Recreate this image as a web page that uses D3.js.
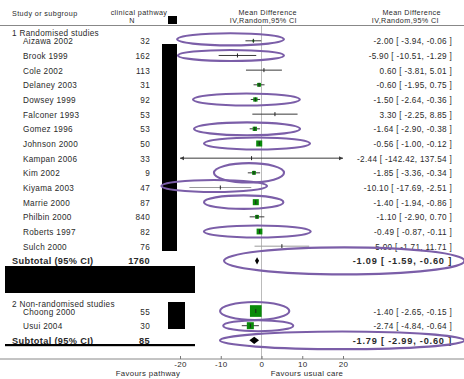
<!DOCTYPE html>
<html>
<head>
<meta charset="utf-8">
<script src="https://cdn.jsdelivr.net/npm/d3@7"></script>
<style>
  html, body { margin: 0; padding: 0; background: #fff; }
  svg { display: block; }
  text { font-family: "Liberation Sans", Arial, sans-serif; fill: #2a2a2a; }
</style>
</head>
<body>
<svg id="chart" width="464" height="379"></svg>
<script>
// ---------------- DATA ----------------
const group1Label = "1 Randomised studies";
const group2Label = "2 Non-randomised studies";

const studies1 = ["Aizawa 2002","Brook 1999","Cole 2002","Delaney 2003","Dowsey 1999","Falconer 1993","Gomez 1996","Johnson 2000","Kampan 2006","Kim 2002","Kiyama 2003","Marrie 2000","Philbin 2000","Roberts 1997","Sulch 2000"];
const n1 =      [32, 162, 113, 31, 92, 53, 53, 50, 33, 9, 47, 87, 840, 82, 76];
const md1 =     [-2.00, -5.90, 0.60, -0.60, -1.50, 3.30, -1.64, -0.56, -2.44, -1.85, -10.10, -1.40, -1.10, -0.49, 5.00];
const lo1 =     [-3.94, -10.51, -3.81, -1.95, -2.64, -2.25, -2.90, -1.00, -142.42, -3.36, -17.69, -1.94, -2.90, -0.87, -1.71];
const hi1 =     [-0.06, -1.29, 5.01, 0.75, -0.36, 8.85, -0.38, -0.12, 137.54, -0.34, -2.51, -0.86, 0.70, -0.11, 11.71];
const weight1 = [2, 0.5, 1, 8, 10, 0.8, 10, 20, 0, 8, 0.2, 20, 8, 18.5, 0.3];
const subtotal1 = { n: 1760, md: -1.09, lo: -1.59, hi: -0.60 };

const studies2 = ["Choong 2000","Usui 2004"];
const n2 =      [55, 30];
const md2 =     [-1.40, -2.74];
const lo2 =     [-2.65, -4.84];
const hi2 =     [-0.15, -0.64];
const weight2 = [75, 27];
const subtotal2 = { n: 85, md: -1.79, lo: -2.99, hi: -0.60 };

const xTicks = [-20, -10, 0, 10, 20];
const favoursLeft = "Favours pathway";
const favoursRight = "Favours usual care";

// highlight ellipses (annotations), in data units: centre MD, half-width in MD units, half-height in rows
const annotRows = ["Aizawa 2002","Brook 1999","Dowsey 1999","Gomez 1996","Johnson 2000","Kim 2002","Kiyama 2003","Marrie 2000","Roberts 1997","Subtotal 1","Choong 2000","Usui 2004","Subtotal 2"];
const annotCx =   [-7.6, -7.5, -3.7, -3.55, -1.1, -3.07, -11.6, -4.37, -1.03, 20.3, -1.67, -0.8, 19.8];
const annotRx =   [13.1, 13.0, 13.1, 13.0, 13.0, 8.6, 12.95, 9.75, 13.1, 29.5, 8.5, 8.6, 30];
const annotRy =   [0.41, 0.375, 0.41, 0.44, 0.41, 0.66, 0.41, 0.46, 0.41, 0.92, 0.61, 0.375, 0.6];

// ---------------- LAYOUT ----------------
const svg = d3.select("#chart");
const W = 464;
const x = d3.scaleLinear().domain([-20, 20]).range([180, 343]);
const y = d3.scaleLinear().domain([0, 1]).range([40.8, 55.47]);
const dimmed = new Set(["Kiyama 2003", "Sulch 2000"]);
const boxSide = w => 1.35 * Math.sqrt(w);
const fmt = v => v.toFixed(2);

// row index for each line
const rowIndex = {};
studies1.forEach((s, i) => rowIndex[s] = i);
rowIndex["Subtotal 1"] = 15;
studies2.forEach((s, i) => rowIndex[s] = 18.42 + i);
rowIndex["Subtotal 2"] = 20.42;

const rows = [];
studies1.forEach((s, i) => rows.push({ name: s, n: n1[i], md: md1[i], lo: lo1[i], hi: hi1[i], w: weight1[i], idx: i }));
studies2.forEach((s, i) => rows.push({ name: s, n: n2[i], md: md2[i], lo: lo2[i], hi: hi2[i], w: weight2[i], idx: 18.42 + i }));
const subs = [
  Object.assign({ idx: 15 }, subtotal1),
  Object.assign({ idx: 20.42 }, subtotal2)
];

// ---------------- HEADER ----------------
const headerFont = 7.2;
const hdr = svg.append("g").attr("font-size", headerFont).attr("letter-spacing", 0.4);
hdr.append("text").attr("x", 12).attr("y", 15.5).text("Study or subgroup");
hdr.append("text").attr("x", 139).attr("y", 15).attr("text-anchor", "middle").text("clinical pathway");
hdr.append("text").attr("x", 132).attr("y", 23).attr("text-anchor", "middle").text("N");
hdr.append("text").attr("x", 297).attr("y", 15).attr("text-anchor", "end").text("Mean Difference");
hdr.append("text").attr("x", 297).attr("y", 23).attr("text-anchor", "end").text("IV,Random,95% CI");
hdr.append("text").attr("x", 441).attr("y", 15).attr("text-anchor", "end").text("Mean Difference");
hdr.append("text").attr("x", 439).attr("y", 23).attr("text-anchor", "end").text("IV,Random,95% CI");
svg.append("line").attr("x1", 0).attr("x2", W).attr("y1", 25.5).attr("y2", 25.5)
  .attr("stroke", "#888").attr("stroke-width", 1);

// ---------------- AXIS ----------------
const axisY = 359;
svg.append("line").attr("x1", x(0)).attr("x2", x(0)).attr("y1", 26).attr("y2", axisY)
  .attr("stroke", "#bbb").attr("stroke-width", 1);
const axisG = svg.append("g").attr("transform", `translate(0,${axisY})`);
axisG.append("line").attr("x1", 0).attr("x2", W).attr("y1", 0).attr("y2", 0).attr("stroke", "#888");
const ax = d3.axisTop(x).tickValues(xTicks).tickSize(3).tickFormat(d => d);
const axG = axisG.append("g").call(ax);
axG.select(".domain").remove();
axG.selectAll(".tick line").attr("stroke", "#777");
axG.selectAll(".tick text").attr("y", 8).attr("dy", 0).attr("font-size", 8)
  .attr("letter-spacing", 0.4).attr("fill", "#2a2a2a")
  .attr("font-family", "'Liberation Sans', Arial, sans-serif");
svg.append("text").attr("x", 148).attr("y", 376).attr("text-anchor", "middle")
  .attr("font-size", 7.8).attr("letter-spacing", 0.35).text(favoursLeft);
svg.append("text").attr("x", 307).attr("y", 376).attr("text-anchor", "middle")
  .attr("font-size", 7.8).attr("letter-spacing", 0.35).text(favoursRight);

// ---------------- TEXT COLUMNS ----------------
const bodyFont = 8.2;
const txt = svg.append("g").attr("font-size", bodyFont).attr("letter-spacing", 0.3);
txt.append("text").attr("x", 12).attr("y", y(-0.53) + 3).text(group1Label);
txt.append("text").attr("x", 12).attr("y", y(17.94) + 3).text(group2Label);
rows.forEach(r => {
  const yy = y(r.idx) + 3.5;
  txt.append("text").attr("x", 23).attr("y", yy).text(r.name);
  txt.append("text").attr("x", 150).attr("y", yy).attr("text-anchor", "end").text(r.n);
  txt.append("text").attr("x", 452).attr("y", yy).attr("text-anchor", "end")
    .text(`${fmt(r.md)} [ ${fmt(r.lo)}, ${fmt(r.hi)} ]`);
});
const bold = svg.append("g").attr("font-size", 9.2).attr("font-weight", "bold").attr("letter-spacing", 0.35);
subs.forEach(s => {
  const yy = y(s.idx) + 3.5;
  bold.append("text").attr("x", 12).attr("y", yy).attr("fill", "#111").text("Subtotal (95% CI)");
  bold.append("text").attr("x", 150).attr("y", yy).attr("text-anchor", "end").attr("fill", "#111").text(s.n);
  bold.append("text").attr("x", 452).attr("y", yy).attr("text-anchor", "end").attr("fill", "#111")
    .attr("letter-spacing", 0.8)
    .text(`${fmt(s.md)} [ ${fmt(s.lo)}, ${fmt(s.hi)} ]`);
});

// ---------------- FOREST MARKS ----------------
const [xmin, xmax] = x.domain();
const plot = svg.append("g");
rows.forEach(r => {
  const yy = y(r.idx);
  const col = dimmed.has(r.name) ? "#9a9a9a" : "#3a3a3a";
  const x1 = x(Math.max(r.lo, xmin)), x2 = x(Math.min(r.hi, xmax));
  plot.append("line").attr("x1", x1).attr("x2", x2).attr("y1", yy).attr("y2", yy)
    .attr("stroke", col).attr("stroke-width", 1);
  if (r.lo < xmin) {
    plot.append("path").attr("d", `M${x1},${yy} l4,-2 l0,4 z`).attr("fill", col);
  }
  if (r.hi > xmax) {
    plot.append("path").attr("d", `M${x2},${yy} l-4,-2 l0,4 z`).attr("fill", col);
  }
  const s = boxSide(r.w);
  if (s >= 1.5) {
    plot.append("rect").attr("x", x(r.md) - s / 2).attr("y", yy - s / 2)
      .attr("width", s).attr("height", s).attr("fill", "#0a8a0a");
  }
  plot.append("line").attr("x1", x(r.md)).attr("x2", x(r.md)).attr("y1", yy - 2).attr("y2", yy + 2)
    .attr("stroke", "#222").attr("stroke-width", 1);
});
subs.forEach(s => {
  const yy = y(s.idx);
  const h = 3.6;
  plot.append("path")
    .attr("d", `M${x(s.lo)},${yy} L${x(s.md)},${yy - h} L${x(s.hi)},${yy} L${x(s.md)},${yy + h} Z`)
    .attr("fill", "#000");
});

// ---------------- REDACTION BOXES ----------------
const red = svg.append("g").attr("fill", "#000");
red.append("rect").attr("x", 168).attr("y", 16).attr("width", 9).attr("height", 8);
red.append("rect").attr("x", 162).attr("y", 44).attr("width", 15).attr("height", 207);
red.append("rect").attr("x", 5).attr("y", 266).attr("width", 190).attr("height", 27);
red.append("rect").attr("x", 168).attr("y", 302).attr("width", 17).attr("height", 27);
red.append("rect").attr("x", 5).attr("y", 344).attr("width", 190).attr("height", 2.2);

// ---------------- ANNOTATION ELLIPSES ----------------
const ppu = x(1) - x(0);
const ppr = y(1) - y(0);
const ann = svg.append("g").attr("fill", "none").attr("stroke", "#7b5ea8").attr("stroke-width", 2.1);
annotRows.forEach((name, i) => {
  ann.append("ellipse")
    .attr("cx", x(annotCx[i]))
    .attr("cy", y(rowIndex[name] - (name === "Aizawa 2002" || name === "Kiyama 2003" ? 0.1 : 0)))
    .attr("rx", annotRx[i] * ppu)
    .attr("ry", annotRy[i] * ppr);
});
</script>
</body>
</html>
